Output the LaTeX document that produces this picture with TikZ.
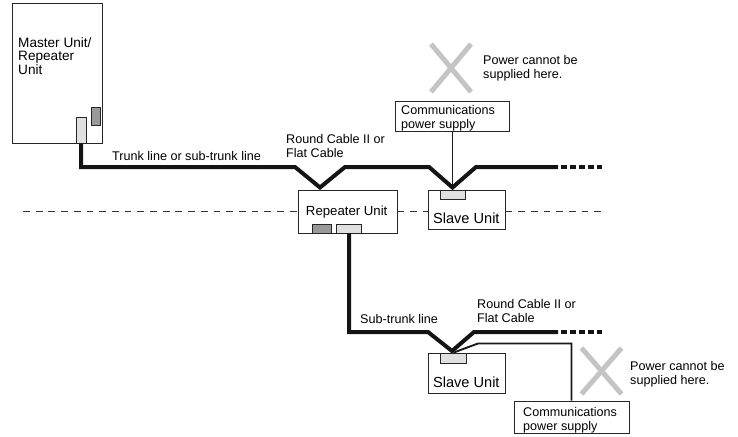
\documentclass[tikz,border=0pt]{standalone}
\usepackage{fontspec}
\setmainfont{Liberation Sans}
\begin{document}
\begin{tikzpicture}[x=1pt,y=-1pt,
  box/.style={draw=black!85,line width=0.9pt,fill=white,inner sep=0pt},
  conlight/.style={draw=black!85,line width=0.8pt,fill=black!12,inner sep=0pt},
  condark/.style={draw=black!85,line width=0.8pt,fill=black!40,inner sep=0pt},
  cable/.style={line width=4pt,draw=black!92,line join=miter},
  dotcable/.style={line width=4pt,draw=black!92,dash pattern=on 5.5pt off 3.6pt},
  thinline/.style={line width=1.9pt,draw=black!90},
  dashline/.style={line width=1.6pt,draw=black!80,dash pattern=on 6.8pt off 5.9pt},
  crossline/.style={line width=5pt,draw=black!23},
  lbl/.style={inner sep=0pt,align=left,anchor=north west,font=\fontsize{12.6}{14}\selectfont},
  unitlbl/.style={inner sep=0pt,anchor=base,font=\fontsize{14.6}{16}\selectfont}]
\useasboundingbox (0,0) rectangle (738,436);

% dashed boundary line
\coordinate (dl) at (23,211.5);
\coordinate (dr) at (602,211.5);

% boxes
\node[box,minimum width=90pt,minimum height=140pt] (master) at (57,73) {};
\node[lbl,font=\fontsize{13.6}{13.7}\selectfont] (masterlbl) at (18,37) {Master Unit/\\Repeater\\Unit};
\node[conlight,minimum width=10pt,minimum height=26pt] (mconA) at (81,130) {};
\node[condark,minimum width=9pt,minimum height=18pt] (mconB) at (95.5,116) {};

\node[box,minimum width=99pt,minimum height=43pt] (rep) at (347.5,211.5) {};
\node[box,minimum width=77pt,minimum height=39pt] (sl1) at (466.5,209.5) {};
\node[box,minimum width=77pt,minimum height=40pt] (sl2) at (466.5,373) {};
\node[box,minimum width=114pt,minimum height=30pt] (pw1) at (452.5,116) {};
\node[box,minimum width=115pt,minimum height=32pt] (pw2) at (571.5,417) {};

\draw[dashline] (dl) -- (rep.west |- dl);
\draw[dashline] (rep.east |- dl) -- (sl1.west |- dl);
\draw[dashline] (sl1.east |- dl) -- (dr);

% unit labels
\node[lbl,font=\fontsize{13.2}{14}\selectfont,anchor=base] (replbl) at (346.7,215.7) {Repeater Unit};
\node[unitlbl] (sl1lbl) at (466.3,223.3) {Slave Unit};
\node[unitlbl] (sl2lbl) at (466.3,387.3) {Slave Unit};
\node[lbl] (pw1lbl) at (401,105) {Communications\\power supply};
\node[lbl] (pw2lbl) at (523,406.7) {Communications\\power supply};

% connectors on units
\node[condark,minimum width=19pt,minimum height=9pt] (rconA) at (321.5,228.5) {};
\node[conlight,minimum width=25pt,minimum height=9pt] (rconB) at (349,228.5) {};
\node[conlight,minimum width=25pt,minimum height=9pt] (s1con) at (452.5,194.5) {};
\node[conlight,minimum width=26pt,minimum height=10pt] (s2con) at (453.5,358) {};

% communications power lines
\draw[thinline] (pw1.south) -- (s1con.north);
\coordinate (p2a) at (478,343.5);
\coordinate (p2b) at (571.5,343.5);
\draw[thinline] (s2con.north) -- (p2a) -- (p2b) -- (pw2.north);

% trunk line
\coordinate (t1) at (81,167);
\coordinate (v1a) at (295,167);
\coordinate (v1) at (320,187.5);
\coordinate (v1b) at (345,167);
\coordinate (v2a) at (429,167);
\coordinate (v2) at (452.5,187.5);
\coordinate (v2b) at (476,167);
\coordinate (tend) at (558,167);
\coordinate (tdot0) at (561,167);
\coordinate (tdot1) at (602,167);
\draw[cable] (mconA.south) -- (t1) -- (v1a) -- (v1) -- (v1b) -- (v2a) -- (v2) -- (v2b) -- (tend);
\draw[dotcable] (tdot0) -- (tdot1);

% sub-trunk line
\coordinate (s1) at (349,332);
\coordinate (w1a) at (428,332);
\coordinate (w1) at (452,351);
\coordinate (w1b) at (474,332);
\coordinate (send) at (558,332);
\coordinate (sdot0) at (561,332);
\coordinate (sdot1) at (602,332);
\draw[cable] (rconB.south) -- (s1) -- (w1a) -- (w1) -- (w1b) -- (send);
\draw[dotcable] (sdot0) -- (sdot1);

% crosses
\coordinate (x1) at (451,68);
\draw[crossline] (x1) ++(-20,-24) -- ++(40,48);
\draw[crossline] (x1) ++(20,-24) -- ++(-40,48);
\coordinate (x2) at (601.5,371);
\draw[crossline] (x2) ++(-20,-23) -- ++(40,46);
\draw[crossline] (x2) ++(20,-23) -- ++(-40,46);

% labels
\node[lbl] (trunklbl) at (112,151.5) {Trunk line or sub-trunk line};
\node[lbl] (rc1) at (286,134) {Round Cable II or\\Flat Cable};
\node[lbl] (no1) at (483,55.5) {Power cannot be\\supplied here.};
\node[lbl] (sublbl) at (360,314) {Sub-trunk line};
\node[lbl] (rc2) at (477,299) {Round Cable II or\\Flat Cable};
\node[lbl] (no2) at (630,361) {Power cannot be\\supplied here.};
\end{tikzpicture}
\end{document}
